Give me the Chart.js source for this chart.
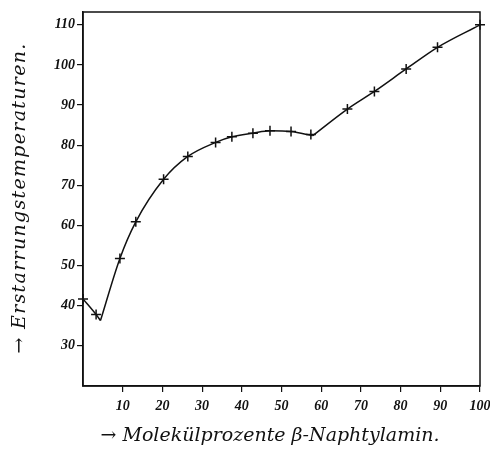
<!DOCTYPE html>
<html>
<head>
<meta charset="utf-8">
<script src="https://cdn.jsdelivr.net/npm/chart.js@4/dist/chart.umd.min.js"></script>
<style>
html,body{margin:0;padding:0;background:#fff;}
#wrap{width:490px;height:452px;}
</style>
</head>
<body>
<div id="wrap"><canvas id="c" width="490" height="452"></canvas></div>
<script>
// Measured points (Molekülprozente, Erstarrungstemperatur)
const markerX = [0, 3.3, 9.3, 13.3, 20.3, 26.4, 33.4, 37.5, 42.8, 47.1, 52.4, 57.4, 66.6, 73.4, 81.4, 89.3, 100];
const markerY = [41.7, 37.8, 51.8, 60.9, 71.5, 77.2, 80.7, 82.1, 83.0, 83.6, 83.4, 82.7, 89.0, 93.4, 99.0, 104.4, 110];
// Curve branches
const leftX = [0, 3.3, 4.4];
const leftY = [41.7, 37.8, 36.3];
const midX = [4.4, 9.3, 13.3, 20.3, 26.4, 33.4, 37.5, 42.8, 47.1, 52.4, 57.9];
const midY = [36.3, 51.8, 60.9, 71.5, 77.2, 80.7, 82.1, 83.0, 83.6, 83.4, 82.4];
const rightX = [57.9, 66.6, 73.4, 81.4, 89.3, 100];
const rightY = [82.4, 89.0, 93.4, 99.0, 104.4, 110];
const xTicks = [10, 20, 30, 40, 50, 60, 70, 80, 90, 100];
const yTicks = [30, 40, 50, 60, 70, 80, 90, 100, 110];
const xTitle = "→ Molekülprozente β-Naphtylamin.";
const yTitle = "→ Erstarrungstemperaturen.";

const pts = (xs, ys) => xs.map((x, i) => ({x: x, y: ys[i]}));
const lineDs = (xs, ys, tension) => ({
  data: pts(xs, ys), showLine: true, borderColor: '#111', borderWidth: 1.5,
  pointRadius: 0, tension: tension, cubicInterpolationMode: 'monotone', fill: false
});

const frame = {
  id: 'frame',
  afterDraw(chart) {
    const {ctx, chartArea: a} = chart;
    ctx.save();
    ctx.strokeStyle = '#111';
    ctx.lineWidth = 1.5;
    ctx.strokeRect(a.left, a.top, a.right - a.left, a.bottom - a.top);
    ctx.fillStyle = '#111';
    ctx.font = 'italic 19px "DejaVu Serif"';
    ctx.textAlign = 'center';
    ctx.textBaseline = 'middle';
    ctx.fillText(xTitle, 270, 436);
    ctx.translate(20, 198);
    ctx.rotate(-Math.PI / 2);
    ctx.letterSpacing = '1.3px';
    ctx.fillText(yTitle, 0, 0);
    ctx.restore();
  }
};

const tickFont = {family: 'Liberation Serif', style: 'italic', weight: 'bold', size: 14};

new Chart(document.getElementById('c'), {
  type: 'scatter',
  data: {
    datasets: [
      lineDs(leftX, leftY, 0),
      lineDs(midX, midY, 0.4),
      lineDs(rightX, rightY, 0.4),
      {
        data: pts(markerX, markerY), showLine: false, pointStyle: 'cross',
        pointRadius: 5, borderColor: '#111', borderWidth: 1.5, clip: 8
      }
    ]
  },
  options: {
    responsive: false, animation: false, devicePixelRatio: 1,
    layout: {padding: {top: 12, right: 10, left: 0, bottom: 0}},
    plugins: {legend: {display: false}, tooltip: {enabled: false}},
    scales: {
      x: {
        type: 'linear', min: 0, max: 100,
        afterBuildTicks: s => { s.ticks = xTicks.map(v => ({value: v})); },
        afterFit: s => { s.height = 66; s.paddingRight = 0; s.paddingLeft = 0; },
        grid: {drawOnChartArea: false, color: '#111', tickLength: 6, lineWidth: 1.2},
        border: {display: true, color: '#111', width: 1.5},
        ticks: {color: '#111', padding: 6, font: tickFont}
      },
      y: {
        type: 'linear', min: 20, max: 113.2,
        afterBuildTicks: s => { s.ticks = yTicks.map(v => ({value: v})); },
        afterFit: s => { s.width = 83; s.paddingTop = 0; s.paddingBottom = 0; },
        grid: {drawOnChartArea: false, color: '#111', tickLength: 6, lineWidth: 1.2},
        border: {display: true, color: '#111', width: 1.5},
        ticks: {color: '#111', padding: 2, font: tickFont}
      }
    }
  },
  plugins: [frame]
});
</script>
</body>
</html>
